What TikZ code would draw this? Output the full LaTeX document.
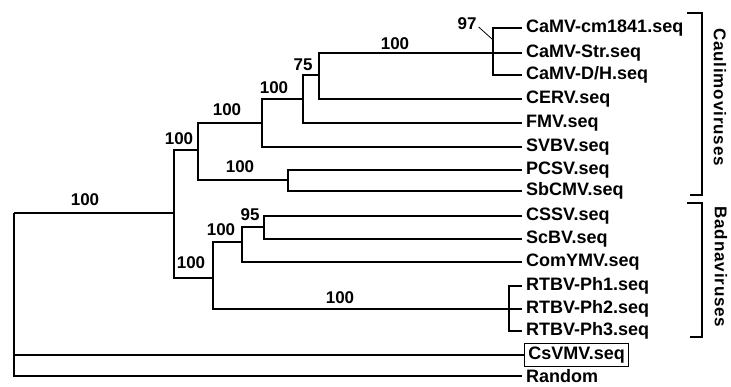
\documentclass[tikz,border=0pt]{standalone}
\usepackage{fontspec}
\setmainfont{Liberation Sans}
\usepackage{tikz}

\begin{document}
\begin{tikzpicture}[x=1pt, y=-1pt,
    branch/.style={line width=2.6pt},
    leaf/.style={anchor=west, inner xsep=4pt, inner ysep=1pt, font=\fontsize{18}{20}\selectfont\bfseries},
    boot/.style={font=\fontsize{17}{19}\selectfont\bfseries, inner sep=1pt},
    group/.style={rotate=-90, font=\fontsize{17}{19}\selectfont\bfseries\addfontfeatures{LetterSpace=5}}]
    \useasboundingbox (0,0) rectangle (731,386);
    % 1. Leaves
    \node[leaf] (cm)  at (522,28)  {CaMV-cm1841.seq};
    \node[leaf] (str) at (522,53)  {CaMV-Str.seq};
    \node[leaf] (dh)  at (522,75)  {CaMV-D/H.seq};
    \node[leaf] (cerv) at (522,99) {CERV.seq};
    \node[leaf] (fmv) at (522,123) {FMV.seq};
    \node[leaf] (svbv) at (522,147) {SVBV.seq};
    \node[leaf] (pcsv) at (522,170) {PCSV.seq};
    \node[leaf] (sbcmv) at (522,191) {SbCMV.seq};
    \node[leaf] (cssv) at (522,216) {CSSV.seq};
    \node[leaf] (scbv) at (522,239) {ScBV.seq};
    \node[leaf] (comy) at (522,262) {ComYMV.seq};
    \node[leaf] (ph1) at (522,286) {RTBV-Ph1.seq};
    \node[leaf] (ph2) at (522,309) {RTBV-Ph2.seq};
    \node[leaf] (ph3) at (522,331) {RTBV-Ph3.seq};
    \node[leaf, draw, line width=0.8pt, inner ysep=3pt] (csv) at (524,355) {CsVMV.seq};
    \node[leaf] (rand) at (522,376) {Random};

    % 2. Inner nodes
    \coordinate (root) at (14,213);
    \coordinate (A) at (174,213);
    \coordinate (B) at (198,150);
    \coordinate (C) at (262,123);
    \coordinate (D) at (303,99);
    \coordinate (E) at (319,75);
    \coordinate (F) at (493,53);
    \coordinate (G) at (288,180);
    \coordinate (H) at (213,278);
    \coordinate (I) at (242,242);
    \coordinate (J) at (264,227);
    \coordinate (K) at (509,309);

    % 3. Branches
    \draw[branch] (root) |- (A);
    \draw[branch] (root) |- (csv.west);
    \draw[branch] (root) |- (rand.west);
    \draw[branch] (A) |- (B);
    \draw[branch] (A) |- (H);
    \draw[branch] (B) |- (C);
    \draw[branch] (B) |- (G);
    \draw[branch] (C) |- (D);
    \draw[branch] (C) |- (svbv.west);
    \draw[branch] (D) |- (E);
    \draw[branch] (D) |- (fmv.west);
    \draw[branch] (E) |- (F);
    \draw[branch] (E) |- (cerv.west);
    \draw[branch] (F) |- (cm.west);
    \draw[branch] (F) |- (str.west);
    \draw[branch] (F) |- (dh.west);
    \draw[branch] (G) |- (pcsv.west);
    \draw[branch] (G) |- (sbcmv.west);
    \draw[branch] (H) |- (I);
    \draw[branch] (H) |- (K);
    \draw[branch] (I) |- (J);
    \draw[branch] (I) |- (comy.west);
    \draw[branch] (J) |- (cssv.west);
    \draw[branch] (J) |- (scbv.west);
    \draw[branch] (K) |- (ph1.west);
    \draw[branch] (K) |- (ph2.west);
    \draw[branch] (K) |- (ph3.west);

    % 4. Bootstrap values
    \node[boot] (bRoot) at (85,200) {100};
    \node[boot] (bA) at (179,139) {100};
    \node[boot] (bB) at (227,110) {100};
    \node[boot] (bC) at (274,88) {100};
    \node[boot] (bD) at (303,65) {75};
    \node[boot] (bE) at (395,44) {100};
    \node[boot] (bF) at (467,24) {97};
    \node[boot] (bG) at (240,167) {100};
    \node[boot] (bH) at (191,263) {100};
    \node[boot] (bI) at (221,230) {100};
    \node[boot] (bJ) at (250,215) {95};
    \node[boot] (bK) at (340,298) {100};
    \coordinate (tip97) at (492,39);
    \draw[line width=0.8pt] (bF.east) ++(1,3) -- (tip97);

    % 5. Groups
    \draw[branch] (687,13) -- (702,13) -- (702,195) -- (690,195);
    \draw[branch] (687,203) -- (702,203) -- (702,337) -- (690,337);
    \node[group] (caul) at (720,97) {Caulimoviruses};
    \node[group] (badna) at (721,267) {Badnaviruses};
\end{tikzpicture}
\end{document}
